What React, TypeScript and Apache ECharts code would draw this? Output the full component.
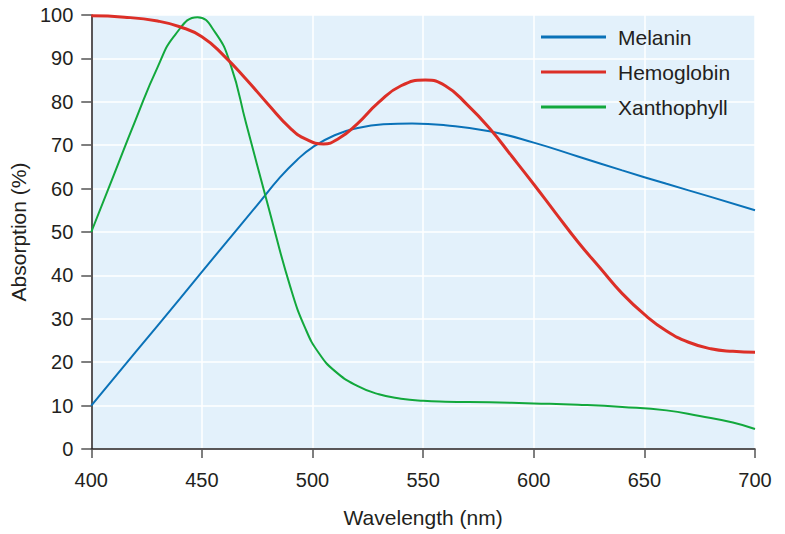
import React, { useEffect, useRef } from "react";
import * as echarts from "echarts";

const xTicks = [400, 450, 500, 550, 600, 650, 700];
const yTicks = [0, 10, 20, 30, 40, 50, 60, 70, 80, 90, 100];

const melaninNm = [400, 420, 440, 460, 475, 485, 493, 500, 510, 520, 532, 545, 560, 580, 600, 620, 640, 660, 680, 700];
const melaninVal = [10, 22.3, 34.6, 47, 56.2, 62.4, 66.6, 69.5, 72.3, 73.9, 74.8, 75, 74.6, 73.2, 70.6, 67.4, 64.2, 61.1, 58.1, 55];

const hemoNm = [400, 415, 430, 440, 450, 460, 470, 480, 490, 497, 505, 512, 520, 530, 540, 551, 560, 570, 580, 590, 600, 610, 620, 630, 640, 650, 660, 670, 680, 690, 700];
const hemoVal = [99.8, 99.5, 98.6, 97.3, 95, 90.6, 85.2, 79.4, 73.9, 71.4, 70.3, 71.6, 74.8, 79.9, 83.7, 85, 83.7, 79.3, 73.9, 67.5, 61, 54.3, 47.7, 41.7, 35.8, 31, 27.2, 24.6, 23.1, 22.5, 22.3];

const xanthoNm = [400, 410, 420, 430, 438, 448, 456, 463, 470, 480, 490, 497, 503, 510, 520, 530, 540, 550, 560, 580, 600, 620, 640, 660, 675, 690, 700];
const xanthoVal = [50, 62.9, 75.8, 88, 95.5, 99.5, 96, 88.5, 75, 55.9, 37.3, 27.5, 22, 18, 14.6, 12.6, 11.6, 11.1, 10.9, 10.75, 10.5, 10.2, 9.7, 8.9, 7.6, 6.1, 4.6];

const seriesNames = ["Melanin", "Hemoglobin", "Xanthophyll"];
const seriesColors = ["#0a72b8", "#dc2f27", "#12a83c"];

const pairs = (xs: number[], ys: number[]) => xs.map((x, i) => [x, ys[i]]);

export default function App() {
  const ref = useRef<HTMLDivElement>(null);
  useEffect(() => {
    if (!ref.current) return;
    const chart = echarts.init(ref.current, undefined, { renderer: "svg" });
    const font = "'Liberation Sans', Arial, Helvetica, sans-serif";
    const textColor = "#231f20";
    const datasets = [
      pairs(melaninNm, melaninVal),
      pairs(hemoNm, hemoVal),
      pairs(xanthoNm, xanthoVal),
    ];
    const widths = [2, 3, 2];
    chart.setOption({
      animation: false,
      textStyle: { fontFamily: font },
      grid: {
        left: 91,
        right: 30,
        top: 15,
        bottom: 85,
        show: true,
        backgroundColor: "#e3f1fb",
        borderWidth: 0,
      },
      legend: {
        orient: "vertical",
        left: 536,
        top: 21.5,
        itemWidth: 65,
        itemHeight: 3,
        itemGap: 14,
        icon: "rect",
        data: seriesNames,
        textStyle: {
          fontSize: 21,
          color: textColor,
          fontFamily: font,
          padding: [0, 0, 0, 7],
        },
      },
      xAxis: {
        type: "value",
        min: xTicks[0],
        max: xTicks[xTicks.length - 1],
        interval: 50,
        name: "Wavelength (nm)",
        nameLocation: "middle",
        nameGap: 58,
        nameTextStyle: { fontSize: 21, color: textColor, fontFamily: font },
        axisLine: { show: true, lineStyle: { color: "#231f20", width: 1.5 } },
        axisTick: { show: true, length: 9, lineStyle: { color: "#555", width: 1.5 } },
        axisLabel: { fontSize: 20, color: textColor, margin: 21, fontFamily: font },
        splitLine: { show: true, lineStyle: { color: "#ffffff", width: 1.5 } },
      },
      yAxis: {
        type: "value",
        min: yTicks[0],
        max: yTicks[yTicks.length - 1],
        interval: 10,
        name: "Absorption (%)",
        nameLocation: "middle",
        nameGap: 52,
        nameTextStyle: { fontSize: 21, color: textColor, fontFamily: font },
        axisLine: { show: true, lineStyle: { color: "#231f20", width: 1.5 } },
        axisTick: { show: true, length: 10, lineStyle: { color: "#555", width: 1.5 } },
        axisLabel: { fontSize: 20, color: textColor, margin: 18, fontFamily: font },
        splitLine: { show: true, lineStyle: { color: "#ffffff", width: 1.5 } },
      },
      series: seriesNames.map((name, i) => ({
        name,
        type: "line",
        data: datasets[i],
        smooth: 0.5,
        showSymbol: false,
        symbol: "none",
        color: seriesColors[i],
        lineStyle: { color: seriesColors[i], width: widths[i] },
        z: i === 1 ? 3 : 2,
      })),
    });
    return () => chart.dispose();
  }, []);
  return (
    <div
      ref={ref}
      style={{ position: "fixed", left: 0, top: 0, width: 785, height: 534, background: "#ffffff" }}
    />
  );
}
